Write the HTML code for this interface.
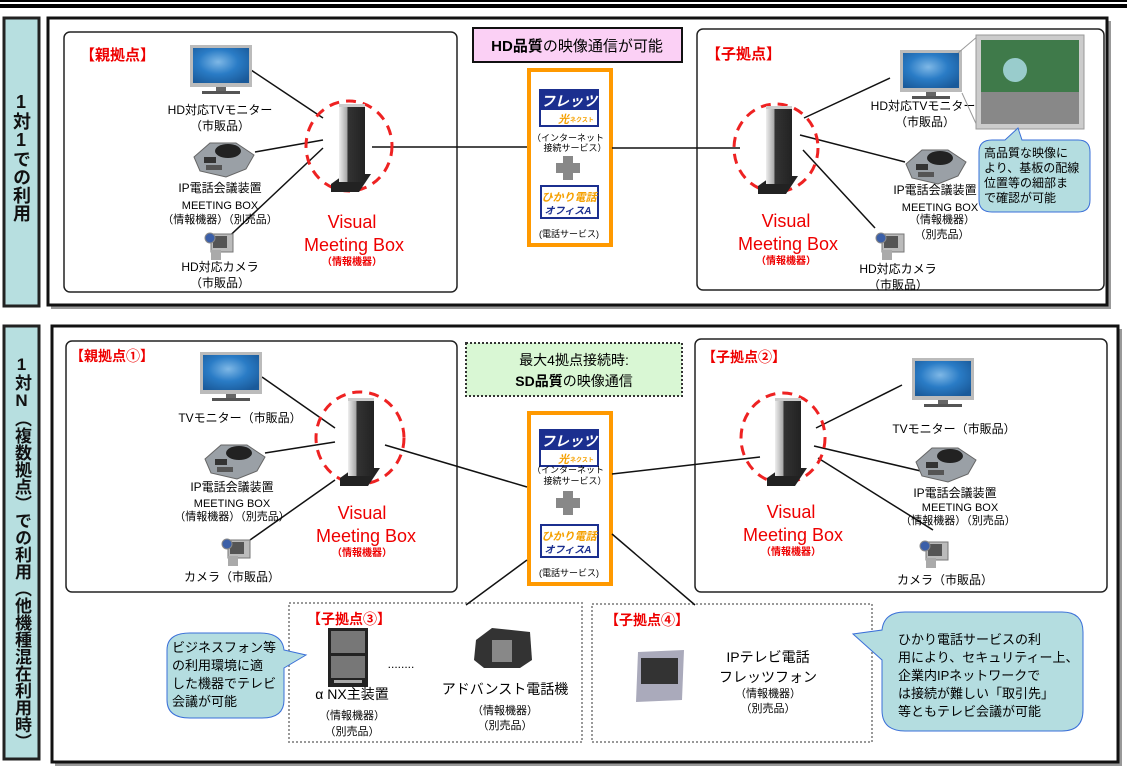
<!DOCTYPE html>
<html><head><meta charset="utf-8"><style>
body{margin:0;background:#fff;width:1127px;height:766px;overflow:hidden;position:relative;font-family:"Liberation Sans","Noto Sans CJK JP",sans-serif}
.vl{position:absolute;writing-mode:vertical-rl;text-orientation:upright;font-weight:bold;color:#111;font-family:"Liberation Sans","Noto Sans CJK JP",sans-serif;letter-spacing:0px}
svg text{font-family:"Liberation Sans","Noto Sans CJK JP",sans-serif}
</style></head><body>
<svg width="1127" height="766" viewBox="0 0 1127 766" xmlns="http://www.w3.org/2000/svg" style="position:absolute;left:0;top:0">
<defs>
<radialGradient id="scr" cx="0.45" cy="0.4" r="0.7"><stop offset="0" stop-color="#7fb8e6"/><stop offset="0.5" stop-color="#2a7cc6"/><stop offset="1" stop-color="#1a5a9a"/></radialGradient>
<linearGradient id="twg" x1="0" x2="1"><stop offset="0" stop-color="#eee"/><stop offset="0.3" stop-color="#aaa"/><stop offset="0.35" stop-color="#333"/><stop offset="1" stop-color="#222"/></linearGradient>
<g id="mon"><rect x="0" y="0" width="62" height="42" fill="#bbb"/><rect x="3" y="3" width="56" height="35" fill="url(#scr)"/><rect x="26" y="42" width="10" height="4" fill="#666"/><rect x="12" y="46" width="38" height="3" fill="#555"/></g>
<g id="ph"><path d="M4 22 L20 8 L46 8 L64 20 L56 34 L36 42 L10 36 Z" fill="#9aa0a6" stroke="#666"/><ellipse cx="38" cy="16" rx="13" ry="7" fill="#222"/><rect x="14" y="22" width="12" height="6" fill="#333"/><rect x="16" y="30" width="16" height="5" fill="#555"/></g>
<g id="cam"><rect x="6" y="6" width="22" height="18" fill="#bbb" stroke="#777"/><rect x="8" y="8" width="14" height="12" fill="#555"/><circle cx="5" cy="10" r="5" fill="#3b5fa8" stroke="#888"/><rect x="6" y="22" width="10" height="10" fill="#aaa"/></g>
<g id="tower"><polygon points="0,80 14,70 40,70 28,88 0,88" fill="#222"/><rect x="8" y="0" width="26" height="78" fill="url(#twg)"/><rect x="8" y="0" width="26" height="3" fill="#ccc"/></g>
<g id="flets"><rect x="0" y="0" width="58" height="36" fill="#fff" stroke="#1b2f8f" stroke-width="2"/><rect x="1" y="1" width="56" height="19" fill="#1b2f8f"/><text x="29" y="16" font-size="14" font-weight="bold" font-style="italic" fill="#fff" text-anchor="middle">フレッツ</text><text x="18" y="33" font-size="11" font-weight="bold" font-style="italic" fill="#f5a000">光</text><text x="30" y="32" font-size="6" font-weight="bold" fill="#f5a000">ネクスト</text></g>
<g id="hik"><rect x="0" y="0" width="57" height="32" fill="#fff" stroke="#1b2f8f" stroke-width="2"/><text x="28" y="15" font-size="11" font-weight="bold" font-style="italic" fill="#f5a000" text-anchor="middle">ひかり電話</text><text x="27" y="28" font-size="10" font-weight="bold" font-style="italic" fill="#1b2f8f" text-anchor="middle">オフィスA</text></g>
</defs>
<rect x="0" y="0" width="1127" height="2" fill="#000"/><rect x="0" y="4" width="1127" height="4" fill="#000"/>
<!-- section 1 -->
<rect x="4" y="18" width="35" height="288" fill="#b7dfe0" stroke="#222" stroke-width="3"/>
<rect x="51" y="21" width="1060" height="288" fill="#999"/>
<rect x="48" y="18" width="1059" height="287" fill="#fff" stroke="#111" stroke-width="3"/>
<rect x="64" y="32" width="393" height="260" rx="6" fill="#fff" stroke="#222" stroke-width="1.5"/>
<rect x="697" y="29" width="407" height="261" rx="6" fill="#fff" stroke="#222" stroke-width="1.5"/>
<rect x="473" y="28" width="209" height="34" fill="#fbd0f5" stroke="#111" stroke-width="2"/>
<text x="577" y="51" font-size="15" text-anchor="middle"><tspan font-weight="bold">HD品質</tspan>の映像通信が可能</text>
<rect x="529" y="70" width="82" height="175" fill="#fff" stroke="#ff9900" stroke-width="4"/>
<use href="#flets" x="540" y="90"/>
<text x="568" y="141" font-size="9" text-anchor="middle">（インターネット</text>
<text x="575" y="151" font-size="9" text-anchor="middle">接続サービス）</text>
<rect x="563" y="156" width="10" height="24" fill="#888"/><rect x="556" y="163" width="24" height="10" fill="#888"/>
<use href="#hik" x="541" y="186"/>
<text x="569" y="237" font-size="9" text-anchor="middle">(電話サービス)</text>
<g stroke="#111" stroke-width="1.5" fill="none">
<line x1="251" y1="70" x2="323" y2="118"/><line x1="255" y1="152" x2="323" y2="140"/><line x1="220" y1="245" x2="323" y2="148"/>
<line x1="372" y1="147" x2="527" y2="147"/><line x1="612" y1="148" x2="740" y2="148"/>
<line x1="804" y1="118" x2="890" y2="78"/><line x1="800" y1="135" x2="905" y2="162"/><line x1="803" y1="150" x2="875" y2="228"/>
</g>
<text x="80" y="60" font-size="15" font-weight="bold" fill="#e00">【親拠点】</text>
<use href="#mon" x="190" y="45"/>
<text x="220" y="114" font-size="12" text-anchor="middle">HD対応TVモニター</text><text x="220" y="130" font-size="12" text-anchor="middle">（市販品）</text>
<use href="#ph" x="190" y="135"/>
<text x="220" y="192" font-size="12" text-anchor="middle">IP電話会議装置</text><text x="220" y="209" font-size="11" text-anchor="middle">MEETING BOX</text><text x="220" y="223" font-size="11" text-anchor="middle">（情報機器）（別売品）</text>
<use href="#cam" x="205" y="228"/>
<text x="220" y="271" font-size="12" text-anchor="middle">HD対応カメラ</text><text x="220" y="287" font-size="12" text-anchor="middle">（市販品）</text>
<ellipse cx="349" cy="146" rx="43" ry="45" fill="none" stroke="#e22" stroke-width="3" stroke-dasharray="10,7"/>
<use href="#tower" x="331" y="104"/>
<text x="352" y="228" font-size="18" fill="#e00" text-anchor="middle">Visual</text>
<text x="354" y="251" font-size="18" fill="#e00" text-anchor="middle">Meeting Box</text>
<text x="352" y="265" font-size="10" font-weight="bold" fill="#e00" text-anchor="middle">（情報機器）</text>
<text x="706" y="59" font-size="15" font-weight="bold" fill="#e00">【子拠点】</text>
<ellipse cx="776" cy="148" rx="42" ry="44" fill="none" stroke="#e22" stroke-width="3" stroke-dasharray="10,7"/>
<use href="#tower" x="758" y="106"/>
<text x="786" y="227" font-size="18" fill="#e00" text-anchor="middle">Visual</text>
<text x="788" y="250" font-size="18" fill="#e00" text-anchor="middle">Meeting Box</text>
<text x="786" y="264" font-size="10" font-weight="bold" fill="#e00" text-anchor="middle">（情報機器）</text>
<use href="#mon" x="900" y="50"/>
<text x="923" y="110" font-size="12" text-anchor="middle">HD対応TVモニター</text><text x="925" y="126" font-size="12" text-anchor="middle">（市販品）</text>
<use href="#ph" x="902" y="142"/>
<text x="935" y="194" font-size="12" text-anchor="middle">IP電話会議装置</text><text x="940" y="211" font-size="11" text-anchor="middle">MEETING BOX</text><text x="942" y="223" font-size="11" text-anchor="middle">（情報機器）</text><text x="942" y="238" font-size="11" text-anchor="middle">（別売品）</text>
<use href="#cam" x="876" y="228"/>
<text x="898" y="273" font-size="12" text-anchor="middle">HD対応カメラ</text><text x="898" y="289" font-size="12" text-anchor="middle">（市販品）</text>
<line x1="958" y1="53" x2="978" y2="36" stroke="#999"/><line x1="962" y1="93" x2="978" y2="128" stroke="#999"/>
<rect x="976" y="35" width="108" height="94" fill="#ccc" stroke="#999"/>
<rect x="981" y="40" width="98" height="84" fill="#3f7a4a"/><rect x="981" y="92" width="98" height="32" fill="#888"/><circle cx="1015" cy="70" r="12" fill="#9cc"/>
<path d="M992 140 Q979 140 979 152 L979 200 Q979 212 992 212 L1078 212 Q1090 212 1090 200 L1090 152 Q1090 140 1078 140 L1022 140 L1018 128 L1005 140 Z" fill="#b4dde0" stroke="#3a6fd8" stroke-width="1"/>
<g font-size="12"><text x="984" y="157">高品質な映像に</text><text x="984" y="172">より、基板の配線</text><text x="984" y="187">位置等の細部ま</text><text x="984" y="202">で確認が可能</text></g>
<!-- section 2 -->
<rect x="4" y="326" width="35" height="433" fill="#b7dfe0" stroke="#222" stroke-width="3"/>
<rect x="55" y="329" width="1067" height="437" fill="#999"/>
<rect x="52" y="326" width="1066" height="436" fill="#fff" stroke="#111" stroke-width="3"/>
<rect x="66" y="341" width="391" height="251" rx="6" fill="#fff" stroke="#222" stroke-width="1.5"/>
<rect x="695" y="339" width="412" height="253" rx="6" fill="#fff" stroke="#222" stroke-width="1.5"/>
<rect x="466" y="343" width="216" height="53" fill="#d9f7d4" stroke="#333" stroke-width="2" stroke-dasharray="2,2"/>
<text x="574" y="365" font-size="14" text-anchor="middle">最大4拠点接続時:</text>
<text x="574" y="386" font-size="14" text-anchor="middle"><tspan font-weight="bold">SD品質</tspan>の映像通信</text>
<rect x="529" y="413" width="82" height="171" fill="#fff" stroke="#ff9900" stroke-width="4"/>
<use href="#flets" x="540" y="430"/>
<text x="568" y="473" font-size="9" text-anchor="middle">（インターネット</text>
<text x="575" y="484" font-size="9" text-anchor="middle">接続サービス）</text>
<rect x="563" y="491" width="10" height="24" fill="#888"/><rect x="556" y="498" width="24" height="10" fill="#888"/>
<use href="#hik" x="541" y="525"/>
<text x="569" y="576" font-size="9" text-anchor="middle">(電話サービス)</text>
<rect x="289" y="603" width="293" height="139" fill="none" stroke="#999" stroke-width="2" stroke-dasharray="2,2"/>
<rect x="592" y="604" width="280" height="138" fill="none" stroke="#999" stroke-width="2" stroke-dasharray="2,2"/>
<g stroke="#111" stroke-width="1.5" fill="none">
<line x1="262" y1="377" x2="335" y2="428"/><line x1="265" y1="453" x2="335" y2="442"/><line x1="250" y1="540" x2="335" y2="480"/>
<line x1="385" y1="445" x2="527" y2="487"/><line x1="527" y1="560" x2="466" y2="605"/>
<line x1="612" y1="474" x2="760" y2="457"/><line x1="816" y1="428" x2="902" y2="385"/><line x1="814" y1="446" x2="925" y2="472"/><line x1="818" y1="458" x2="933" y2="530"/>
<line x1="612" y1="534" x2="695" y2="605"/>
</g>
<text x="70" y="361" font-size="14" font-weight="bold" fill="#e00">【親拠点①】</text>
<use href="#mon" x="200" y="352"/>
<text x="240" y="422" font-size="12" text-anchor="middle">TVモニター（市販品）</text>
<use href="#ph" x="201" y="437"/>
<text x="232" y="491" font-size="12" text-anchor="middle">IP電話会議装置</text><text x="232" y="507" font-size="11" text-anchor="middle">MEETING BOX</text><text x="232" y="520" font-size="11" text-anchor="middle">（情報機器）（別売品）</text>
<use href="#cam" x="222" y="534"/>
<text x="232" y="581" font-size="12" text-anchor="middle">カメラ（市販品）</text>
<ellipse cx="360" cy="438" rx="44" ry="46" fill="none" stroke="#e22" stroke-width="3" stroke-dasharray="10,7"/>
<use href="#tower" x="340" y="398"/>
<text x="362" y="519" font-size="18" fill="#e00" text-anchor="middle">Visual</text>
<text x="366" y="542" font-size="18" fill="#e00" text-anchor="middle">Meeting Box</text>
<text x="362" y="556" font-size="10" font-weight="bold" fill="#e00" text-anchor="middle">（情報機器）</text>
<text x="702" y="362" font-size="14" font-weight="bold" fill="#e00">【子拠点②】</text>
<ellipse cx="783" cy="438" rx="42" ry="45" fill="none" stroke="#e22" stroke-width="3" stroke-dasharray="10,7"/>
<use href="#tower" x="767" y="398"/>
<text x="791" y="518" font-size="18" fill="#e00" text-anchor="middle">Visual</text>
<text x="793" y="541" font-size="18" fill="#e00" text-anchor="middle">Meeting Box</text>
<text x="791" y="555" font-size="10" font-weight="bold" fill="#e00" text-anchor="middle">（情報機器）</text>
<use href="#mon" x="912" y="358"/>
<text x="954" y="433" font-size="12" text-anchor="middle">TVモニター（市販品）</text>
<use href="#ph" x="912" y="440"/>
<text x="955" y="497" font-size="12" text-anchor="middle">IP電話会議装置</text><text x="960" y="511" font-size="11" text-anchor="middle">MEETING BOX</text><text x="958" y="524" font-size="11" text-anchor="middle">（情報機器）（別売品）</text>
<use href="#cam" x="920" y="536"/>
<text x="945" y="584" font-size="12" text-anchor="middle">カメラ（市販品）</text>
<!-- box3 -->
<text x="307" y="624" font-size="14" font-weight="bold" fill="#e00">【子拠点③】</text>
<rect x="328" y="628" width="40" height="59" fill="#222"/><rect x="331" y="631" width="34" height="22" fill="#777"/><rect x="331" y="656" width="34" height="22" fill="#777"/><rect x="334" y="680" width="28" height="3" fill="#aaa"/>
<text x="401" y="668" font-size="12" text-anchor="middle">........</text>
<path d="M476 640 L492 628 L530 632 L532 660 L520 668 L484 668 L474 660 Z" fill="#333"/><rect x="492" y="640" width="20" height="22" fill="#888"/>
<text x="352" y="699" font-size="14" text-anchor="middle">α NX主装置</text><text x="352" y="719" font-size="11" text-anchor="middle">（情報機器）</text><text x="352" y="735" font-size="11" text-anchor="middle">（別売品）</text>
<text x="505" y="694" font-size="14" text-anchor="middle">アドバンスト電話機</text><text x="505" y="714" font-size="11" text-anchor="middle">（情報機器）</text><text x="505" y="729" font-size="11" text-anchor="middle">（別売品）</text>
<!-- box4 -->
<text x="605" y="625" font-size="14" font-weight="bold" fill="#e00">【子拠点④】</text>
<path d="M638 652 L684 650 L682 700 L636 702 Z" fill="#aab"/><rect x="641" y="658" width="37" height="26" fill="#333"/>
<text x="768" y="662" font-size="14" text-anchor="middle">IPテレビ電話</text><text x="768" y="682" font-size="14" text-anchor="middle">フレッツフォン</text><text x="768" y="697" font-size="11" text-anchor="middle">（情報機器）</text><text x="768" y="712" font-size="11" text-anchor="middle">（別売品）</text>
<!-- callouts -->
<path d="M190 633 L260 633 Q282 633 284 650 L306 655 L284 668 L284 700 Q284 718 262 718 L190 718 Q167 718 167 700 L167 650 Q167 633 190 633 Z" fill="#b4dde0" stroke="#3a6fd8" stroke-width="1"/>
<g font-size="13"><text x="172" y="652">ビジネスフォン等</text><text x="172" y="670">の利用環境に適</text><text x="172" y="688">した機器でテレビ</text><text x="172" y="706">会議が可能</text></g>
<path d="M905 612 L1062 612 Q1083 612 1083 632 L1083 710 Q1083 731 1062 731 L905 731 Q882 731 882 710 L882 660 L853 634 L882 630 Q884 612 905 612 Z" fill="#b4dde0" stroke="#3a6fd8" stroke-width="1"/>
<g font-size="13"><text x="898" y="644">ひかり電話サービスの利</text><text x="898" y="662">用により、セキュリティー上、</text><text x="898" y="680">企業内IPネットワークで</text><text x="898" y="698">は接続が難しい「取引先」</text><text x="898" y="716">等ともテレビ会議が可能</text></g>
</svg>
<div class="vl" style="left:11px;top:92px;font-size:18px;line-height:20px">1対1での利用</div>
<div class="vl" style="left:12px;top:355px;font-size:17px;line-height:19px">1対N（複数拠点）での利用（他機種混在利用時）</div>
</body></html>
